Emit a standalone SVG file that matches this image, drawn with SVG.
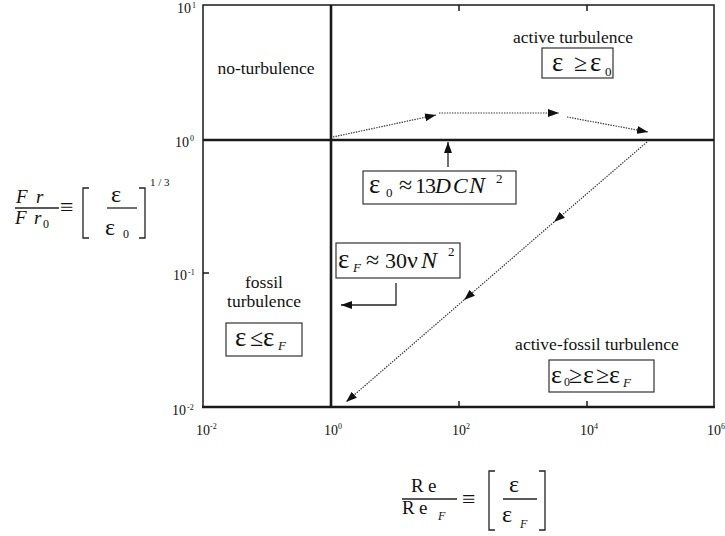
<svg xmlns="http://www.w3.org/2000/svg" width="725" height="536" viewBox="0 0 725 536" font-family="'Liberation Serif', 'DejaVu Serif', serif">
<defs>
<style>
text{font-family:"Liberation Serif","DejaVu Serif",serif;fill:#111}
.lbl{font-size:17.5px;text-anchor:middle}
.tk{font-size:14px}
.sp{font-size:8px}
.m{font-size:22px}
.e{font-size:27px}
.r{font-size:24px}
.sub{font-size:13px}
.it{font-style:italic}
.box{fill:#fff;stroke:#333;stroke-width:1.2}
.frame{fill:none;stroke:#1a1a1a;stroke-width:1.5}
.thick{fill:none;stroke:#1a1a1a;stroke-width:2.6}
.dot{fill:none;stroke:#333;stroke-width:1.2;stroke-dasharray:1.4 1.2;marker-end:url(#ah)}
.sol{fill:none;stroke:#222;stroke-width:1.3;marker-end:url(#ah)}
.br{fill:none;stroke:#222;stroke-width:1.3}
</style>
<marker id="ah" markerUnits="userSpaceOnUse" markerWidth="11" markerHeight="8" refX="11" refY="4" orient="auto">
<path d="M0,0 L11,4 L0,8 z" fill="#111"/>
</marker>
</defs>
<rect width="725" height="536" fill="#fff"/>

<g id="axes">
<path class="frame" d="M203,407 V5 H714 V407"/>
<path class="thick" d="M202,407 H715"/>
<path class="thick" d="M331,5 V407"/>
<path class="thick" d="M203,140 H714"/>
<path class="frame" d="M203,273 H209 M459,5 V11 M587,5 V11 M459,407 V401 M587,407 V401"/>
<text class="tk" x="177" y="13">10<tspan class="sp" x="192" y="8">1</tspan></text>
<text class="tk" x="175" y="147">10<tspan class="sp" x="190" y="141">0</tspan></text>
<text class="tk" x="173" y="280">10<tspan class="sp" x="188" y="275">-1</tspan></text>
<text class="tk" x="172" y="415">10<tspan class="sp" x="187" y="410">-2</tspan></text>
<text class="tk" x="196" y="435">10<tspan class="sp" x="210" y="429">-2</tspan></text>
<text class="tk" x="324" y="435">10<tspan class="sp" x="338" y="429">0</tspan></text>
<text class="tk" x="452" y="435">10<tspan class="sp" x="466" y="429">2</tspan></text>
<text class="tk" x="580" y="435">10<tspan class="sp" x="594" y="429">4</tspan></text>
<text class="tk" x="707" y="435">10<tspan class="sp" x="721" y="429">6</tspan></text>
</g>

<g id="y-label">
<text class="it" font-size="19" x="16" y="203">F</text>
<text class="it" font-size="19" x="36" y="203">r</text>
<line class="br" x1="15" y1="208" x2="59" y2="208"/>
<text class="it" font-size="19" x="15" y="224">F</text>
<text class="it" font-size="19" x="34" y="224">r</text>
<text font-size="12" x="43" y="228">0</text>
<text font-size="24" x="60" y="215">≡</text>
<path class="br" d="M89,188 H83 V238 H89 M139,188 H145 V238 H139"/>
<text font-size="24" x="111" y="202">ε</text>
<line class="br" x1="107" y1="208" x2="137" y2="208"/>
<text font-size="24" x="105" y="235">ε</text>
<text font-size="12" x="123" y="238">0</text>
<text font-size="11" x="150" y="186">1 / 3</text>
</g>

<g id="x-label">
<text font-size="19" x="411" y="492">R</text>
<text font-size="19" x="428" y="492">e</text>
<line class="br" x1="402" y1="499" x2="457" y2="499"/>
<text font-size="19" x="402" y="514">R</text>
<text font-size="19" x="419" y="514">e</text>
<text class="it" font-size="12" x="438" y="520">F</text>
<text font-size="24" x="462" y="507">≡</text>
<path class="br" d="M495,471 H489 V530 H495 M539,471 H545 V530 H539"/>
<text font-size="24" x="509" y="492">ε</text>
<line class="br" x1="503" y1="499" x2="537" y2="499"/>
<text font-size="24" x="502" y="522">ε</text>
<text class="it" font-size="12" x="520" y="528">F</text>
</g>

<g id="no-turbulence">
<text class="lbl" x="266" y="74">no-turbulence</text>
</g>

<g id="active-turbulence">
<text class="lbl" x="573" y="43">active turbulence</text>
<rect class="box" x="542" y="48" width="71" height="30"/>
<text class="e" x="552" y="71">ε</text>
<text class="r" x="574" y="71">≥</text>
<text class="e" x="590" y="71">ε</text>
<text class="sub" x="605" y="76">0</text>
</g>

<g id="eps0-box">
<rect class="box" x="363" y="171" width="153" height="33"/>
<text class="e" x="369" y="193">ε</text>
<text class="sub" x="386" y="197">0</text>
<text class="r" x="399" y="193">≈</text>
<text class="m" x="415" y="193">1</text>
<text class="m" x="425" y="193">3</text>
<text class="m it" x="435" y="193">D</text>
<text class="m it" x="453" y="193">C</text>
<text class="it" font-size="24" x="469" y="193">N</text>
<text class="sub" x="496" y="183">2</text>
</g>

<g id="epsF-box">
<rect class="box" x="336" y="243" width="124" height="35"/>
<text class="e" x="338" y="268">ε</text>
<text class="sub it" x="353" y="272">F</text>
<text class="r" x="366" y="268">≈</text>
<text class="m" x="385" y="268">30</text>
<text class="r" x="407" y="268">ν</text>
<text class="it" font-size="24" x="421" y="268">N</text>
<text class="sub" x="448" y="256">2</text>
</g>

<g id="fossil-turbulence">
<text class="lbl" x="264" y="288">fossil</text>
<text class="lbl" x="264" y="307">turbulence</text>
<rect class="box" x="226" y="323" width="76" height="33"/>
<text class="e" x="235" y="346">ε</text>
<text class="r" x="250" y="346">≤</text>
<text class="e" x="263" y="346">ε</text>
<text class="sub it" x="278" y="350">F</text>
</g>

<g id="active-fossil-turbulence">
<text class="lbl" x="597" y="350">active-fossil turbulence</text>
<rect class="box" x="549" y="360" width="105" height="32"/>
<text font-size="26" x="551" y="383">ε</text>
<text font-size="12" x="564" y="386">0</text>
<text class="r" x="569" y="383">≥</text>
<text font-size="26" x="583" y="383">ε</text>
<text class="r" x="596" y="383">≥</text>
<text font-size="26" x="609" y="383">ε</text>
<text class="sub it" x="623" y="387">F</text>
</g>

<g id="connectors">
<path class="dot" d="M333,137 L436,115"/>
<path class="dot" d="M439,113 L559,113"/>
<path class="dot" d="M567,117 L648,132"/>
<path class="dot" d="M647,142 L554,222"/>
<path class="dot" d="M554,222 L464,300"/>
<path class="dot" d="M464,300 L346,402"/>
<path class="sol" d="M448,167 V142"/>
<path class="sol" d="M396,283 V305 H341"/>
</g>
</svg>
